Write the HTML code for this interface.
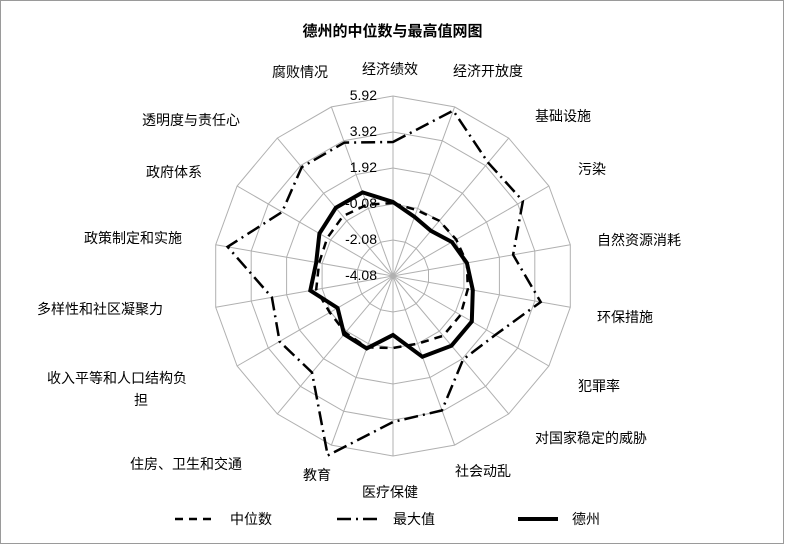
<!DOCTYPE html>
<html><head><meta charset="utf-8"><style>
body{margin:0;background:#fff;}
#c{position:relative;width:785px;height:545px;overflow:hidden;font-family:"Liberation Sans","Noto Sans CJK SC",sans-serif;}
.l{position:absolute;font-size:14px;color:#000;white-space:nowrap;line-height:16px;}
.t{position:absolute;font-size:14px;color:#000;line-height:14px;width:60px;left:317px;text-align:right;}
</style></head><body><div id="c">
<svg id="s" width="785" height="545" style="position:absolute;left:0;top:0">
<rect x="0.5" y="0.5" width="783" height="543" fill="#fff" stroke="#9a9a9a"/>
<g id="grid" stroke="#b0b0b0" stroke-width="1" fill="none"></g>
<g id="data" fill="none" stroke="#000"></g>
<line x1="175" y1="519" x2="215" y2="519" stroke="#000" stroke-width="2.5" stroke-dasharray="8,6"/>
<line x1="337" y1="519" x2="380" y2="519" stroke="#000" stroke-width="2.5" stroke-dasharray="14,5,2,5"/>
<line x1="518" y1="519" x2="558" y2="519" stroke="#000" stroke-width="4"/>
</svg>
<div class="l" style="left:0;width:785px;text-align:center;top:24px;font-weight:bold;font-size:15px">德州的中位数与最高值网图</div>
<div class="t" style="top:88px">5.92</div>
<div class="t" style="top:124px">3.92</div>
<div class="t" style="top:160px">1.92</div>
<div class="t" style="top:196px">-0.08</div>
<div class="t" style="top:232px">-2.08</div>
<div class="t" style="top:268px">-4.08</div>
<div class="l" style="left:362px;top:61px">经济绩效</div>
<div class="l" style="left:453px;top:63px">经济开放度</div>
<div class="l" style="left:535px;top:108px">基础设施</div>
<div class="l" style="left:578px;top:161px">污染</div>
<div class="l" style="left:597px;top:232px">自然资源消耗</div>
<div class="l" style="left:597px;top:309px">环保措施</div>
<div class="l" style="left:578px;top:378px">犯罪率</div>
<div class="l" style="left:535px;top:430px">对国家稳定的威胁</div>
<div class="l" style="left:455px;top:463px">社会动乱</div>
<div class="l" style="left:362px;top:484px">医疗保健</div>
<div class="l" style="left:303px;top:467px">教育</div>
<div class="l" style="left:130px;top:456px">住房、卫生和交通</div>
<div class="l" style="left:47px;top:370px">收入平等和人口结构负</div>
<div class="l" style="left:134px;top:392px">担</div>
<div class="l" style="left:37px;top:301px">多样性和社区凝聚力</div>
<div class="l" style="left:84px;top:230px">政策制定和实施</div>
<div class="l" style="left:146px;top:164px">政府体系</div>
<div class="l" style="left:142px;top:112px">透明度与责任心</div>
<div class="l" style="left:272px;top:64px">腐败情况</div>
<div class="l" style="left:230px;top:511px">中位数</div>
<div class="l" style="left:393px;top:511px">最大值</div>
<div class="l" style="left:572px;top:511px">德州</div>
</div>
<script>
var cx=393,cy=276,N=18,ns="http://www.w3.org/2000/svg";
function pt(k,r){var a=k*20*Math.PI/180;return [(cx+r*Math.sin(a)).toFixed(1),(cy-r*Math.cos(a)).toFixed(1)];}
var g=document.getElementById('grid');
for(var ri=1;ri<=5;ri++){var p=[];for(var k=0;k<N;k++)p.push(pt(k,ri*36).join(','));
var e=document.createElementNS(ns,'polygon');e.setAttribute('points',p.join(' '));g.appendChild(e);}
for(var k=0;k<N;k++){var q=pt(k,180);var l=document.createElementNS(ns,'line');
l.setAttribute('x1',cx);l.setAttribute('y1',cy);l.setAttribute('x2',q[0]);l.setAttribute('y2',q[1]);g.appendChild(l);}
var d=document.getElementById('data');
function poly(v,w,da){var p=[];for(var k=0;k<N;k++)p.push(pt(k,v[k]).join(','));
var e=document.createElementNS(ns,'polygon');e.setAttribute('points',p.join(' '));e.setAttribute('stroke-width',w);
if(da)e.setAttribute('stroke-dasharray',da);e.setAttribute('stroke-linejoin','miter');d.appendChild(e);}
poly([73,70,72,73,75,76,78,78,72,72,76,74,73,78,75,76,78,76],2.5,"8,6");
poly([134,176,148,150,122,150,118,109,143,146,191,126,131,123,168,128,142,142],2.5,"14,5,2,5");
poly([74,63,59,68,75,81,91,91,86,59,77,76,64,84,78,85,89,89],4,null);
</script>
</body></html>
